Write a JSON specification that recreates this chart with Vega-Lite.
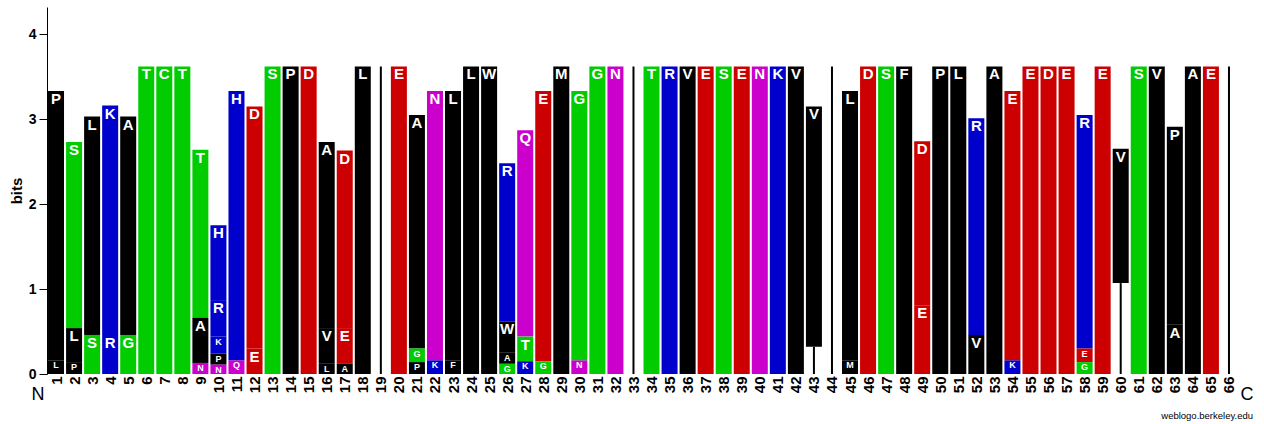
{
  "$schema": "https://vega.github.io/schema/vega-lite/v6.json",
  "width": 1191,
  "height": 367,
  "autosize": {"type": "none"},
  "padding": {"left": 47, "top": 7, "right": 26, "bottom": 50},
  "background": "white",
  "config": {"view": {"stroke": null}, "font": "Liberation Sans", "axisX": {"labelOverlap": false, "labelSeparation": 0, "labelFlush": false}},
  "title": {"text": "weblogo.berkeley.edu", "orient": "bottom", "anchor": "end", "frame": "group", "fontSize": 9.5, "fontWeight": "normal", "font": "Liberation Sans", "color": "black", "offset": 7, "dx": 15},
  "datasets": {
    "logo": [
      {"pos": 1, "aa": "P", "bits": 3.17}, {"pos": 1, "aa": "L", "bits": 0.16},
      {"pos": 2, "aa": "S", "bits": 2.19}, {"pos": 2, "aa": "L", "bits": 0.40}, {"pos": 2, "aa": "P", "bits": 0.14},
      {"pos": 3, "aa": "L", "bits": 2.57}, {"pos": 3, "aa": "S", "bits": 0.46},
      {"pos": 4, "aa": "K", "bits": 2.70}, {"pos": 4, "aa": "R", "bits": 0.46},
      {"pos": 5, "aa": "A", "bits": 2.57}, {"pos": 5, "aa": "G", "bits": 0.46},
      {"pos": 6, "aa": "T", "bits": 3.62},
      {"pos": 7, "aa": "C", "bits": 3.62},
      {"pos": 8, "aa": "T", "bits": 3.62},
      {"pos": 9, "aa": "T", "bits": 1.98}, {"pos": 9, "aa": "A", "bits": 0.53}, {"pos": 9, "aa": "N", "bits": 0.13},
      {"pos": 10, "aa": "H", "bits": 0.88}, {"pos": 10, "aa": "R", "bits": 0.43}, {"pos": 10, "aa": "K", "bits": 0.20}, {"pos": 10, "aa": "P", "bits": 0.13}, {"pos": 10, "aa": "N", "bits": 0.11},
      {"pos": 11, "aa": "H", "bits": 3.17}, {"pos": 11, "aa": "Q", "bits": 0.16},
      {"pos": 12, "aa": "D", "bits": 2.85}, {"pos": 12, "aa": "E", "bits": 0.30},
      {"pos": 13, "aa": "S", "bits": 3.62},
      {"pos": 14, "aa": "P", "bits": 3.62},
      {"pos": 15, "aa": "D", "bits": 3.62},
      {"pos": 16, "aa": "A", "bits": 2.19}, {"pos": 16, "aa": "V", "bits": 0.42}, {"pos": 16, "aa": "L", "bits": 0.12},
      {"pos": 17, "aa": "D", "bits": 2.09}, {"pos": 17, "aa": "E", "bits": 0.42}, {"pos": 17, "aa": "A", "bits": 0.12},
      {"pos": 18, "aa": "L", "bits": 3.62},
      {"pos": 19, "aa": "I", "bits": 3.62},
      {"pos": 20, "aa": "E", "bits": 3.62},
      {"pos": 21, "aa": "A", "bits": 2.75}, {"pos": 21, "aa": "G", "bits": 0.16}, {"pos": 21, "aa": "P", "bits": 0.14},
      {"pos": 22, "aa": "N", "bits": 3.17}, {"pos": 22, "aa": "K", "bits": 0.16},
      {"pos": 23, "aa": "L", "bits": 3.17}, {"pos": 23, "aa": "F", "bits": 0.16},
      {"pos": 24, "aa": "L", "bits": 3.62},
      {"pos": 25, "aa": "W", "bits": 3.62},
      {"pos": 26, "aa": "R", "bits": 1.86}, {"pos": 26, "aa": "W", "bits": 0.37}, {"pos": 26, "aa": "A", "bits": 0.13}, {"pos": 26, "aa": "G", "bits": 0.12},
      {"pos": 27, "aa": "Q", "bits": 2.43}, {"pos": 27, "aa": "T", "bits": 0.29}, {"pos": 27, "aa": "K", "bits": 0.15},
      {"pos": 28, "aa": "E", "bits": 3.18}, {"pos": 28, "aa": "G", "bits": 0.15},
      {"pos": 29, "aa": "M", "bits": 3.62},
      {"pos": 30, "aa": "G", "bits": 3.17}, {"pos": 30, "aa": "N", "bits": 0.16},
      {"pos": 31, "aa": "G", "bits": 3.62},
      {"pos": 32, "aa": "N", "bits": 3.62},
      {"pos": 33, "aa": "I", "bits": 3.62},
      {"pos": 34, "aa": "T", "bits": 3.62},
      {"pos": 35, "aa": "R", "bits": 3.62},
      {"pos": 36, "aa": "V", "bits": 3.62},
      {"pos": 37, "aa": "E", "bits": 3.62},
      {"pos": 38, "aa": "S", "bits": 3.62},
      {"pos": 39, "aa": "E", "bits": 3.62},
      {"pos": 40, "aa": "N", "bits": 3.62},
      {"pos": 41, "aa": "K", "bits": 3.62},
      {"pos": 42, "aa": "V", "bits": 3.62},
      {"pos": 43, "aa": "V", "bits": 2.83}, {"pos": 43, "aa": "I", "bits": 0.32},
      {"pos": 44, "aa": "I", "bits": 3.62},
      {"pos": 45, "aa": "L", "bits": 3.17}, {"pos": 45, "aa": "M", "bits": 0.16},
      {"pos": 46, "aa": "D", "bits": 3.62},
      {"pos": 47, "aa": "S", "bits": 3.62},
      {"pos": 48, "aa": "F", "bits": 3.62},
      {"pos": 49, "aa": "D", "bits": 1.93}, {"pos": 49, "aa": "E", "bits": 0.81},
      {"pos": 50, "aa": "P", "bits": 3.62},
      {"pos": 51, "aa": "L", "bits": 3.62},
      {"pos": 52, "aa": "R", "bits": 2.55}, {"pos": 52, "aa": "V", "bits": 0.46},
      {"pos": 53, "aa": "A", "bits": 3.62},
      {"pos": 54, "aa": "E", "bits": 3.17}, {"pos": 54, "aa": "K", "bits": 0.16},
      {"pos": 55, "aa": "E", "bits": 3.62},
      {"pos": 56, "aa": "D", "bits": 3.62},
      {"pos": 57, "aa": "E", "bits": 3.62},
      {"pos": 58, "aa": "R", "bits": 2.75}, {"pos": 58, "aa": "E", "bits": 0.16}, {"pos": 58, "aa": "G", "bits": 0.14},
      {"pos": 59, "aa": "E", "bits": 3.62},
      {"pos": 60, "aa": "V", "bits": 1.58}, {"pos": 60, "aa": "I", "bits": 1.07},
      {"pos": 61, "aa": "S", "bits": 3.62},
      {"pos": 62, "aa": "V", "bits": 3.62},
      {"pos": 63, "aa": "P", "bits": 2.33}, {"pos": 63, "aa": "A", "bits": 0.58},
      {"pos": 64, "aa": "A", "bits": 3.62},
      {"pos": 65, "aa": "E", "bits": 3.62},
      {"pos": 66, "aa": "I", "bits": 3.62}
    ],
    "ends": [
      {"pos": 0, "label": "N"},
      {"pos": 67, "label": "C"}
    ]
  },
  "layer": [
    {
      "data": {"name": "logo"},
      "transform": [
        {"stack": "bits", "groupby": ["pos"], "sort": [{"field": "bits", "order": "ascending"}], "as": ["b0", "b1"]}
      ],
      "mark": {"type": "bar"},
      "encoding": {
        "x": {
          "field": "pos", "type": "quantitative",
          "scale": {"domain": [0.5, 66.5], "nice": false, "zero": false, "padding": 0},
          "axis": {
            "values": [1,2,3,4,5,6,7,8,9,10,11,12,13,14,15,16,17,18,19,20,21,22,23,24,25,26,27,28,29,30,31,32,33,34,35,36,37,38,39,40,41,42,43,44,45,46,47,48,49,50,51,52,53,54,55,56,57,58,59,60,61,62,63,64,65,66],
            "tickCount": 200,
            "labelAngle": -90, "ticks": false, "domain": false, "grid": false, "title": null,
            "labelFont": "Liberation Sans", "labelFontSize": 15, "labelFontWeight": "bold", "labelColor": "black",
            "labelPadding": 2, "labelOverlap": false, "labelSeparation": 0, "labelFlush": false, "labelBound": false, "format": "d"
          }
        },
        "y": {
          "field": "b0", "type": "quantitative",
          "scale": {"domain": [0, 4.32], "nice": false, "zero": true},
          "axis": {
            "values": [0, 1, 2, 3, 4], "title": "bits", "grid": false,
            "tickSize": 8, "tickColor": "black", "domainColor": "black", "format": "d",
            "labelFont": "Liberation Sans", "labelFontSize": 14, "labelFontWeight": "bold", "labelColor": "black", "labelPadding": 3,
            "titleFont": "Liberation Sans", "titleFontSize": 15, "titleFontWeight": "bold", "titleColor": "black", "titlePadding": 4
          }
        },
        "y2": {"field": "b1"},
        "color": {
          "field": "aa", "type": "nominal", "legend": null,
          "scale": {
            "domain": ["A","V","L","I","P","W","F","M","G","S","T","Y","C","N","Q","K","R","H","D","E"],
            "range": ["#000000","#000000","#000000","#000000","#000000","#000000","#000000","#000000","#00cc00","#00cc00","#00cc00","#00cc00","#00cc00","#cc00cc","#cc00cc","#0000cc","#0000cc","#0000cc","#cc0000","#cc0000"]
          }
        },
        "size": {"condition": {"test": "datum.aa === 'I'", "value": 2}, "value": 16}
      }
    },
    {
      "data": {"name": "logo"},
      "transform": [
        {"stack": "bits", "groupby": ["pos"], "sort": [{"field": "bits", "order": "ascending"}], "as": ["b0", "b1"]},
        {"filter": "datum.aa !== 'I'"}
      ],
      "mark": {"type": "text", "color": "white", "fontWeight": "bold", "font": "Liberation Sans", "baseline": "top", "dy": 1},
      "encoding": {
        "x": {"field": "pos", "type": "quantitative"},
        "y": {"field": "b1", "type": "quantitative"},
        "text": {"field": "aa"},
        "size": {"condition": {"test": "datum.bits < 0.25", "value": 9}, "value": 15}
      }
    },
    {
      "data": {"name": "ends"},
      "mark": {"type": "text", "color": "black", "fontSize": 18, "font": "Liberation Sans", "baseline": "middle", "align": "center"},
      "encoding": {
        "x": {"field": "pos", "type": "quantitative"},
        "y": {"datum": -0.25, "type": "quantitative"},
        "text": {"field": "label"}
      }
    }
  ]
}
